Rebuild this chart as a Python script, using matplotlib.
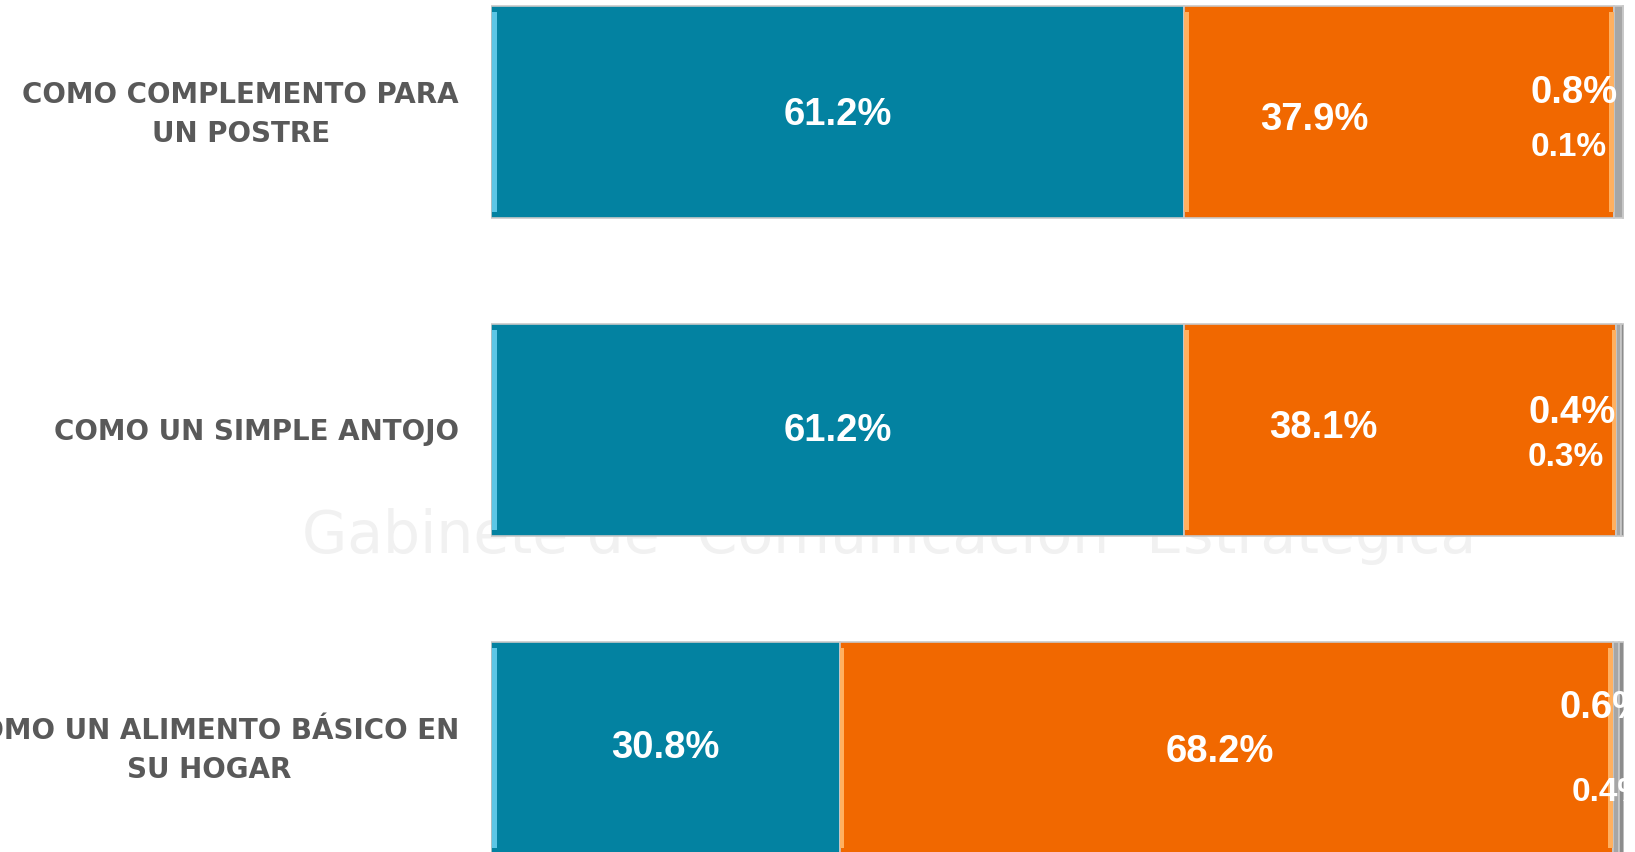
import matplotlib
matplotlib.use("Agg")
import matplotlib.pyplot as plt
import numpy as np

# survey data (percent)
categories = ["COMO COMPLEMENTO PARA\nUN POSTRE",
              "COMO UN SIMPLE ANTOJO",
              "COMO UN ALIMENTO BÁSICO EN\nSU HOGAR"]
serie_a = [61.2, 61.2, 30.8]
serie_b = [37.9, 38.1, 68.2]
serie_c = [0.8, 0.4, 0.6]
serie_d = [0.1, 0.3, 0.4]

colors = ["#0382A1", "#F16800", "#A6A6A6", "#8C8C8C"]

W, H = 1635, 852
fig = plt.figure(figsize=(W / 100, H / 100), dpi=100)
fig.patch.set_facecolor("white")
left_px, right_px = 491, 1624
ax = fig.add_axes([left_px / W, 0, (right_px - left_px) / W, 1])
ax.set_facecolor("none")
ax.axis("off")

step_px = 318.0
y0_px = 111.5
ax.set_xlim(0, 100)
ax.set_ylim((H - y0_px) / step_px, -y0_px / step_px)

# faint watermark, behind the bars
ax.text(0.544, 0.372, "Gabinete de  Comunicación  Estratégica", color="#F1F1F1",
        fontsize=42, ha="center", va="center", family="DejaVu Sans",
        transform=fig.transFigure, zorder=1, clip_on=False)

y = np.arange(len(categories))
series = [serie_a, serie_b, serie_c, serie_d]
left = np.zeros(len(categories))
for vals, c in zip(series, colors):
    ax.barh(y, vals, left=left, height=212 / step_px, color=c,
            edgecolor="#C9C9C9", linewidth=1.2, zorder=2)
    left = left + np.array(vals)

# light bevel on edges of the two main segments
ax.barh(y, 0.45, left=0.1, height=200 / step_px, color="#5CC6E6", linewidth=0, zorder=3)
ax.barh(y, 0.4, left=serie_a, height=200 / step_px, color="#FFB060", linewidth=0, zorder=3)
ax.barh(y, 0.4, left=np.array(serie_a) + np.array(serie_b) - 0.4,
        height=200 / step_px, color="#FFB060", linewidth=0, zorder=3)


def put(x, yi, dy_px, s, size, ha="center"):
    ax.text(x, yi + dy_px / step_px, s, color="white", fontsize=size,
            fontweight="bold", family="Liberation Sans", ha=ha, va="center", zorder=5)


# label placement tweaks (pixels / data shifts)
a_dy = [3.5, 1.5, 0]
b_dx = [-7.5, -6.8, -0.6]
b_dy = [8, -1, 4]
c_pos = [(99.4, -18.5, "right"), (99.3, -16.5, "right"), (94.3, -39, "left")]
d_pos = [(98.5, 35.5, "right"), (98.2, 28.5, "right"), (95.4, 45, "left")]

for i in range(len(categories)):
    put(serie_a[i] / 2, i, a_dy[i], f"{serie_a[i]:.1f}%", 27.5)
    put(serie_a[i] + serie_b[i] / 2 + b_dx[i], i, b_dy[i], f"{serie_b[i]:.1f}%", 27.5)
    put(c_pos[i][0], i, c_pos[i][1], f"{serie_c[i]:.1f}%", 27.5, c_pos[i][2])
    put(d_pos[i][0], i, d_pos[i][1], f"{serie_d[i]:.1f}%", 24, d_pos[i][2])

# category labels
for i, lab in enumerate(categories):
    fig.text(459 / W, 1 - (y0_px + i * step_px + 3) / H, lab, color="#595959",
             fontsize=20, fontweight="bold", family="DejaVu Sans", ha="right", va="center",
             multialignment="center", linespacing=1.5)

fig.savefig("out.png", dpi=100)
